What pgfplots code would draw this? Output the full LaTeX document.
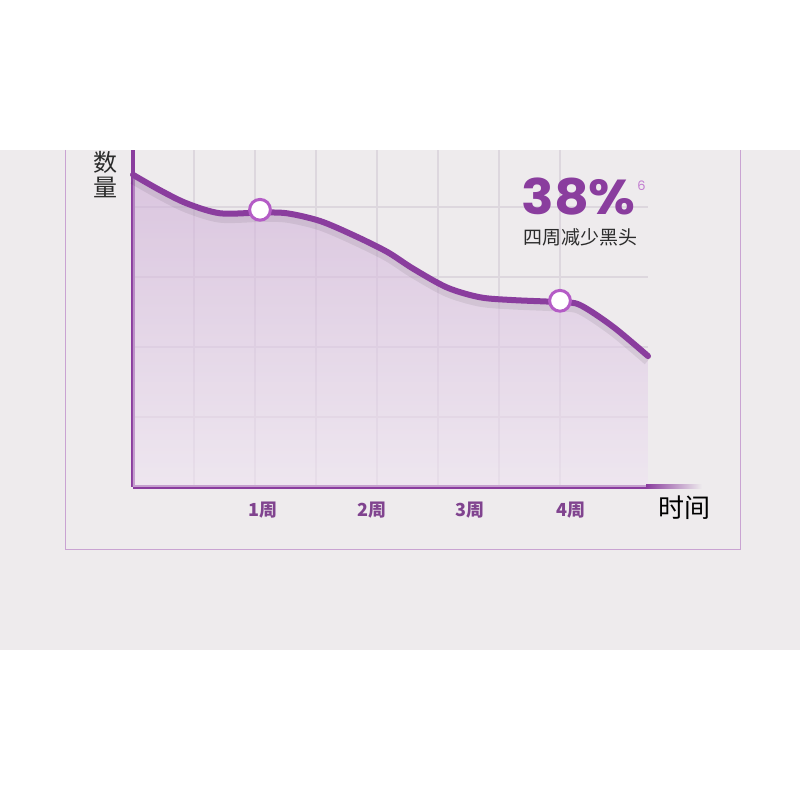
\documentclass[border=0pt]{standalone}
\usepackage{fontspec}
\usepackage{pgfplots}
\pgfplotsset{compat=1.18}
\newfontfamily\cjk{Noto Sans CJK SC}
\newfontfamily\pop{Poppins}
\newfontfamily\popw{Poppins}[FakeStretch=1.1]
\definecolor{panel}{HTML}{EEEBED}
\definecolor{curve}{HTML}{8A3D9E}
\definecolor{ring}{HTML}{B45CC6}
\definecolor{gridc}{HTML}{DDD7DE}
\definecolor{framec}{HTML}{C9A3D2}
\definecolor{tickc}{HTML}{80438F}
\definecolor{txt}{HTML}{2B2B2B}

% curve: x in weeks, y in grid units
\pgfplotstableread{
x y
-0.27 4.46
0.00 4.24
0.27 4.05
0.60 3.91
1.00 3.92
1.27 3.91
1.60 3.80
1.93 3.60
2.27 3.36
2.53 3.12
2.87 2.85
3.20 2.71
3.53 2.67
4.00 2.64
4.20 2.60
4.53 2.29
4.88 1.87
}\curvedata

\begin{document}
\begin{tikzpicture}[x=0.5pt,y=0.5pt]
\fill[white] (0,0) rectangle (800,800);
\fill[panel] (0,150) rectangle (800,650);
\draw[framec, line width=0.5pt] (65,650) -- (65,250) -- (740,250) -- (740,650);

\begin{axis}[
  at={(66.5pt,156.5pt)}, anchor=south west,
  scale only axis, width=257.5pt, height=168.5pt,
  xmin=-0.27, xmax=4.88, ymin=0, ymax=4.814,
  clip=false,
  axis x line*=bottom, axis y line*=left,
  x axis line style={curve, line width=2pt},
  y axis line style={curve, line width=1.7pt},
  xtick={1.03,2.12,3.10,4.11},
  xticklabels={1周,2周,3周,4周},
  ytick={1,2,3,4}, yticklabels={},
  minor xtick={0.34,0.95,1.56,2.17,2.78,3.39,4.00},
  major tick length=0pt, minor tick length=0pt,
  xminorgrids=true, ymajorgrids=true, xmajorgrids=false,
  minor grid style={gridc, line width=0.6pt},
  major grid style={gridc, line width=0.6pt},
  xticklabel style={font=\cjk\bfseries\fontsize{9}{10}\selectfont, text=tickc,
    anchor=center, yshift=-11.5pt},
]
\addplot[draw=none, smooth, top color=curve!42!white,
  bottom color=curve!14!white, fill opacity=0.6]
  table[x=x, y=y] {\curvedata} \closedcycle;
\addplot[black, opacity=0.07, line width=5pt, smooth,
  transform canvas={yshift=-2.2pt}] table[x=x, y=y] {\curvedata};
\addplot[curve, line width=3pt, smooth, line cap=round]
  table[x=x, y=y] {\curvedata};
\addplot[only marks, mark=*, mark size=5.2pt,
  mark options={fill=white, draw=ring, line width=1.5pt}]
  coordinates {(1,3.96) (4,2.66)};
\end{axis}

\shade[left color=curve, right color=panel] (646,311) rectangle (702,315);

\node[font=\cjk\fontsize{12}{12.5}\selectfont, text=txt, align=center]
  at (105,625) {数\\量};
\node[font=\cjk\fontsize{13}{14}\selectfont, text=black] at (684,292) {时间};
\node[anchor=base west, inner sep=0pt, text depth=0pt, text=curve,
  font=\popw\bfseries\fontsize{24.5}{25}\selectfont] at (521,585) {38\%};
\node[anchor=base west, inner sep=0pt, text=ring!80,
  font=\pop\fontsize{6.5}{7}\selectfont] at (637,609) {6};
\node[anchor=base west, inner sep=0pt, text height=7pt, text=txt,
  font=\cjk\fontsize{9.5}{10}\selectfont] at (523,555) {四周减少黑头};
\end{tikzpicture}
\end{document}
